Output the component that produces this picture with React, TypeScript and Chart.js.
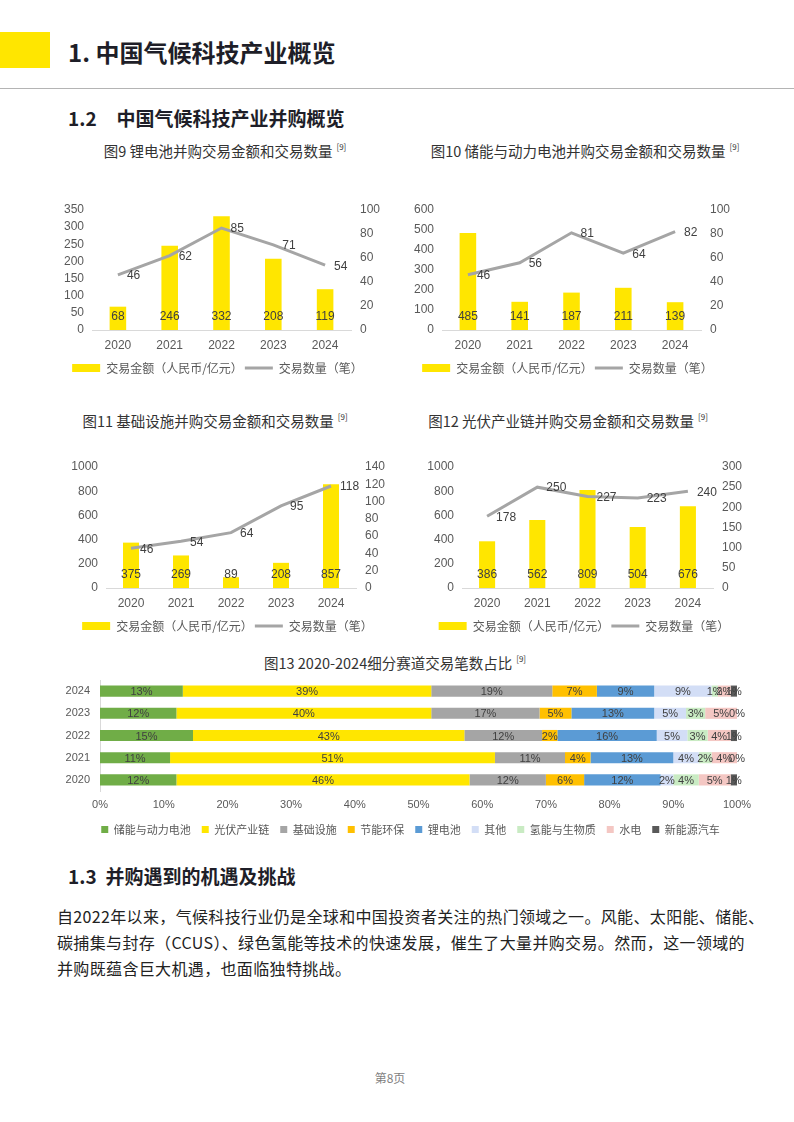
import React, { useEffect, useRef } from 'react';
import { Chart, registerables } from 'chart.js';

Chart.register(...registerables);

const FONT = '"Liberation Sans", "Noto Sans CJK SC", sans-serif';
const CJK = '"Noto Sans CJK SC", "Liberation Sans", sans-serif';
Chart.defaults.font.family = FONT;
Chart.defaults.color = '#595959';

// ---------- data ----------
const years = ['2020', '2021', '2022', '2023', '2024'];

const fig9Amount = [68, 246, 332, 208, 119];
const fig9Count = [46, 62, 85, 71, 54];

const fig10Amount = [485, 141, 187, 211, 139];
const fig10Count = [46, 56, 81, 64, 82];

const fig11Amount = [375, 269, 89, 208, 857];
const fig11Count = [46, 54, 64, 95, 118];

const fig12Amount = [386, 562, 809, 504, 676];
const fig12Count = [178, 250, 227, 223, 240];

const amountLabel = '交易金额（人民币/亿元）';
const countLabel = '交易数量（笔）';

const shareYears = ['2024', '2023', '2022', '2021', '2020'];
const sectors = ['储能与动力电池', '光伏产业链', '基础设施', '节能环保', '锂电池', '其他', '氢能与生物质', '水电', '新能源汽车'];
const shareStorage = [13, 12, 14.6, 11, 12];
const sharePV = [39, 40, 42.6, 51, 46];
const shareInfra = [19, 17, 12.2, 11, 12];
const shareSaving = [7, 5, 2.4, 4, 6];
const shareLithium = [9, 13, 15.6, 13, 12];
const shareOther = [9, 5, 4.8, 4, 2];
const shareHydrogen = [1, 3, 3.2, 2, 4];
const shareHydro = [2, 5, 3.6, 4, 5];
const shareNEV = [1, 0, 1, 0, 1];
const shareSeries = [shareStorage, sharePV, shareInfra, shareSaving, shareLithium, shareOther, shareHydrogen, shareHydro, shareNEV];
const shareColors = ['#70AD47', '#FFE600', '#A5A5A5', '#FFC000', '#5B9BD5', '#D3DEF6', '#C9EBC3', '#F4C7C3', '#595959'];

const YELLOW = '#FFE600';
const GRAY = '#A5A5A5';

// ---------- plugins ----------
const comboLabels = {
  id: 'comboLabels',
  afterDatasetsDraw(chart: any) {
    const ctx = chart.ctx;
    ctx.save();
    ctx.font = `12px ${FONT}`;
    ctx.fillStyle = '#404040';
    ctx.textBaseline = 'middle';
    chart.data.datasets.forEach((ds: any, i: number) => {
      const meta = chart.getDatasetMeta(i);
      meta.data.forEach((el: any, j: number) => {
        const v = ds.data[j];
        if (ds.type === 'line') {
          ctx.textAlign = 'left';
          ctx.fillText(String(v), el.x + 9, el.y + 1);
        } else {
          ctx.textAlign = 'center';
          ctx.fillText(String(v), el.x, chart.scales.y.bottom - 13);
        }
      });
    });
    ctx.restore();
  },
};

const stackLabels = {
  id: 'stackLabels',
  afterDatasetsDraw(chart: any) {
    const ctx = chart.ctx;
    ctx.save();
    ctx.font = `11px ${FONT}`;
    ctx.fillStyle = '#404040';
    ctx.textBaseline = 'middle';
    ctx.textAlign = 'center';
    chart.data.datasets.forEach((ds: any, i: number) => {
      const meta = chart.getDatasetMeta(i);
      meta.data.forEach((el: any, j: number) => {
        const v = ds.data[j];
        ctx.fillText(Math.round(v) + '%', (el.x + el.base) / 2, el.y + 1);
      });
    });
    ctx.restore();
  },
};

// shift the legend of the share chart so it sits where the reference has it
const legendShift = {
  id: 'legendShift',
  afterLayout(chart: any) {
    if (chart.legend) {
      chart.legend.left += 17;
      chart.legend.right += 17;
    }
  },
};

// ---------- components ----------
type ComboProps = {
  left: number; top: number; width: number; height: number;
  amount: number[]; count: number[];
  yMax: number; yStep: number; y2Max: number; y2Step: number;
  leftW: number; rightW: number; padTop: number; padBottom: number; xH: number;
};

function ComboChart(p: ComboProps) {
  const ref = useRef<HTMLCanvasElement>(null);
  useEffect(() => {
    const chart = new Chart(ref.current as HTMLCanvasElement, {
      type: 'bar',
      data: {
        labels: years,
        datasets: [
          {
            type: 'bar',
            label: amountLabel,
            data: p.amount,
            backgroundColor: YELLOW,
            yAxisID: 'y',
            barPercentage: 0.32,
            categoryPercentage: 1,
            order: 2,
          } as any,
          {
            type: 'line',
            label: countLabel,
            data: p.count,
            borderColor: GRAY,
            backgroundColor: GRAY,
            borderWidth: 3,
            pointRadius: 0,
            yAxisID: 'y2',
            order: 1,
          } as any,
        ],
      },
      options: {
        responsive: false,
        animation: false,
        devicePixelRatio: 1,
        layout: { padding: { top: p.padTop, bottom: p.padBottom, left: 0, right: 0 } },
        plugins: {
          tooltip: { enabled: false },
          legend: {
            position: 'bottom',
            labels: {
              usePointStyle: true,
              pointStyleWidth: 28,
              boxHeight: 8,
              padding: 2,
              color: '#595959',
              font: { size: 12, family: CJK },
              generateLabels: () => [
                { text: amountLabel, fillStyle: YELLOW, strokeStyle: YELLOW, lineWidth: 0, pointStyle: 'rect', datasetIndex: 0, hidden: false, fontColor: '#595959' } as any,
                { text: countLabel, fillStyle: GRAY, strokeStyle: GRAY, lineWidth: 3, pointStyle: 'line', datasetIndex: 1, hidden: false, fontColor: '#595959' } as any,
              ],
            },
          },
        },
        scales: {
          x: {
            grid: { display: false, drawTicks: false },
            border: { display: true, color: '#D9D9D9' },
            ticks: { padding: 8, font: { size: 12 }, color: '#595959' },
            afterFit: (s: any) => { s.height = p.xH; },
          },
          y: {
            position: 'left',
            min: 0,
            max: p.yMax,
            grid: { display: false, drawTicks: false },
            border: { display: false },
            ticks: { stepSize: p.yStep, autoSkip: false, padding: 8, font: { size: 12 }, color: '#595959', callback: (v: any) => String(v) },
            afterFit: (s: any) => { s.width = p.leftW; s.paddingTop = 0; s.paddingBottom = 0; },
          },
          y2: {
            position: 'right',
            min: 0,
            max: p.y2Max,
            grid: { display: false, drawTicks: false },
            border: { display: false },
            ticks: { stepSize: p.y2Step, autoSkip: false, padding: 9, font: { size: 12 }, color: '#595959', callback: (v: any) => String(v) },
            afterFit: (s: any) => { s.width = p.rightW; s.paddingTop = 0; s.paddingBottom = 0; },
          },
        },
      } as any,
      plugins: [comboLabels],
    });
    return () => chart.destroy();
  }, []);
  return (
    <canvas
      ref={ref}
      width={p.width}
      height={p.height}
      style={{ position: 'absolute', left: p.left, top: p.top, width: p.width, height: p.height }}
    />
  );
}

function ShareChart() {
  const ref = useRef<HTMLCanvasElement>(null);
  const W = 712, H = 175;
  useEffect(() => {
    const chart = new Chart(ref.current as HTMLCanvasElement, {
      type: 'bar',
      data: {
        labels: shareYears,
        datasets: sectors.map((name, i) => ({
          label: name,
          data: shareSeries[i],
          backgroundColor: shareColors[i],
          borderWidth: 0,
          barPercentage: 0.5,
          categoryPercentage: 1,
        })),
      },
      options: {
        indexAxis: 'y',
        responsive: false,
        animation: false,
        devicePixelRatio: 1,
        layout: { padding: { top: 8, bottom: 2, left: 0, right: 25 } },
        plugins: {
          tooltip: { enabled: false },
          legend: {
            position: 'bottom',
            labels: {
              boxWidth: 7,
              boxHeight: 7,
              padding: 11,
              color: '#595959',
              font: { size: 11, family: CJK },
            },
          },
        },
        scales: {
          x: {
            stacked: true,
            min: 0,
            max: 100,
            grid: { display: false, drawTicks: false },
            border: { display: false },
            ticks: { stepSize: 10, autoSkip: false, padding: 7, font: { size: 11 }, color: '#595959', callback: (v: any) => v + '%' },
            afterFit: (s: any) => { s.height = 22; },
          },
          y: {
            stacked: true,
            grid: { display: false, drawTicks: false },
            border: { display: true, color: '#D9D9D9' },
            ticks: { padding: 10, font: { size: 11 }, color: '#595959' },
            afterFit: (s: any) => { s.width = 50; s.paddingTop = 0; s.paddingBottom = 0; },
          },
        },
      } as any,
      plugins: [stackLabels, legendShift],
    });
    return () => chart.destroy();
  }, []);
  return (
    <canvas
      ref={ref}
      width={W}
      height={H}
      style={{ position: 'absolute', left: 50, top: 672, width: W, height: H }}
    />
  );
}

function Caption(props: { text: string; center: number; y: number; width: number }) {
  const { text, center, y, width } = props;
  return (
    <div
      style={{
        position: 'absolute',
        left: center - width / 2,
        width,
        top: y - 9,
        height: 18,
        lineHeight: '18px',
        fontSize: 14.5,
        textAlign: 'center',
        color: '#333333',
        whiteSpace: 'nowrap',
        fontFamily: CJK,
      }}
    >
      {text}
      <sup style={{ fontSize: 8, verticalAlign: 'top', position: 'relative', top: -4, marginLeft: 4 }}>[9]</sup>
    </div>
  );
}

export default function App() {
  return (
    <div
      style={{
        position: 'absolute',
        left: 0,
        top: 0,
        width: 794,
        height: 1122,
        background: '#ffffff',
        fontFamily: CJK,
        overflow: 'hidden',
      }}
    >
      <div style={{ position: 'absolute', left: 0, top: 32, width: 50, height: 36, background: YELLOW }} />
      <div
        style={{
          position: 'absolute', left: 68, top: 38, fontSize: 24, lineHeight: '28px',
          fontWeight: 700, color: '#1E1E28', whiteSpace: 'nowrap',
        }}
      >
        1. 中国气候科技产业概览
      </div>
      <div style={{ position: 'absolute', left: 0, top: 88, width: 794, height: 1, background: '#B4B4B4' }} />

      <div
        style={{
          position: 'absolute', left: 68, top: 106, fontSize: 19, lineHeight: '24px',
          fontWeight: 700, color: '#1E1E28', whiteSpace: 'nowrap',
        }}
      >
        1.2<span style={{ marginLeft: 20 }}>中国气候科技产业并购概览</span>
      </div>

      <Caption text="图9 锂电池并购交易金额和交易数量" center={225} y={151} width={340} />
      <Caption text="图10 储能与动力电池并购交易金额和交易数量" center={585} y={151} width={380} />
      <Caption text="图11 基础设施并购交易金额和交易数量" center={215} y={421} width={340} />
      <Caption text="图12 光伏产业链并购交易金额和交易数量" center={568} y={421} width={360} />
      <Caption text="图13  2020-2024细分赛道交易笔数占比" center={395} y={663} width={360} />

      <ComboChart left={45} top={198} width={345} height={190} amount={fig9Amount} count={fig9Count}
        yMax={350} yStep={50} y2Max={100} y2Step={20} leftW={47} rightW={39} padTop={12} padBottom={4} xH={30} />
      <ComboChart left={395} top={198} width={345} height={190} amount={fig10Amount} count={fig10Count}
        yMax={600} yStep={100} y2Max={100} y2Step={20} leftW={47} rightW={39} padTop={12} padBottom={4} xH={30} />
      <ComboChart left={59} top={455} width={337} height={191} amount={fig11Amount} count={fig11Count}
        yMax={1000} yStep={200} y2Max={140} y2Step={20} leftW={47} rightW={40} padTop={12} padBottom={4} xH={30} />
      <ComboChart left={415} top={455} width={338} height={191} amount={fig12Amount} count={fig12Count}
        yMax={1000} yStep={200} y2Max={300} y2Step={50} leftW={47} rightW={40} padTop={12} padBottom={4} xH={30} />

      <ShareChart />

      <div
        style={{
          position: 'absolute', left: 68, top: 864, fontSize: 19, lineHeight: '24px',
          fontWeight: 700, color: '#1E1E28', whiteSpace: 'nowrap',
        }}
      >
        1.3<span style={{ marginLeft: 9 }}>并购遇到的机遇及挑战</span>
      </div>

      <div
        style={{
          position: 'absolute', left: 57, top: 903, fontSize: 16, lineHeight: '26px',
          letterSpacing: '0.35px', color: '#222222', whiteSpace: 'nowrap',
        }}
      >
        自2022年以来，气候科技行业仍是全球和中国投资者关注的热门领域之一。风能、太阳能、储能、
        <br />
        碳捕集与封存（CCUS）、绿色氢能等技术的快速发展，催生了大量并购交易。然而，这一领域的
        <br />
        并购既蕴含巨大机遇，也面临独特挑战。
      </div>

      <div
        style={{
          position: 'absolute', left: 340, width: 100, top: 1070, fontSize: 12, lineHeight: '16px',
          textAlign: 'center', color: '#7F7F7F',
        }}
      >
        第8页
      </div>
    </div>
  );
}
